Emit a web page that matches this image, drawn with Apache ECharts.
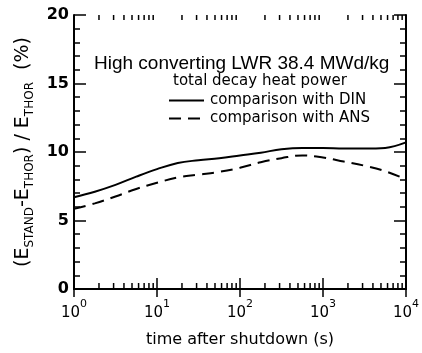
<!DOCTYPE html>
<html>
<head>
<meta charset="utf-8">
<script src="https://cdn.jsdelivr.net/npm/echarts@6/dist/echarts.min.js"></script>
<style>html,body{margin:0;padding:0;background:#fff;}#c{width:422px;height:353px;}</style>
</head>
<body>
<div id="c"></div>
<script>
// time after shutdown (s)
const times = [1, 1.78, 3.16, 5.62, 10, 17.8, 31.6, 56.2, 100, 178, 316, 562, 1000, 1780, 3160, 5620, 10000];
// (E_STAND - E_THOR)/E_THOR (%)
const dinValues = [6.7, 7.1, 7.6, 8.2, 8.75, 9.2, 9.4, 9.55, 9.75, 9.95, 10.2, 10.3, 10.3, 10.25, 10.25, 10.3, 10.7];
const ansValues = [5.85, 6.25, 6.75, 7.3, 7.75, 8.15, 8.35, 8.55, 8.85, 9.25, 9.55, 9.75, 9.6, 9.3, 9.0, 8.6, 8.0];
const seriesNames = ['comparison with DIN', 'comparison with ANS'];
const decades = [1, 10, 100, 1000];
const minorMultipliers = [2, 3, 4, 5, 6, 7, 8, 9];
const yTicks = [0, 5, 10, 15, 20];

const minorTickValues = [];
decades.forEach(d => minorMultipliers.forEach(m => minorTickValues.push(d * m)));

const FONT = '"Liberation Sans", Arial, sans-serif';
const WIDE = '"DejaVu Sans", sans-serif';
const chart = echarts.init(document.getElementById('c'));

chart.setOption({
  backgroundColor: '#fff',
  animation: false,
  textStyle: { fontFamily: WIDE, color: '#000' },
  title: [
    { text: 'High converting LWR 38.4 MWd/kg', left: 89, top: 49,
      textStyle: { fontFamily: FONT, fontSize: 19, fontWeight: 'normal', color: '#000' } },
    { text: 'total decay heat power', left: 168, top: 69,
      textStyle: { fontFamily: WIDE, fontSize: 15, fontWeight: 'normal', color: '#000' } }
  ],
  legend: {
    data: seriesNames,
    orient: 'vertical',
    left: 168, top: 93,
    itemWidth: 35, itemHeight: 15, itemGap: 3,
    itemStyle: { opacity: 0 },
    textStyle: { fontFamily: WIDE, fontSize: 15, color: '#000', padding: [0, 0, 0, 1] },
    padding: 0
  },
  grid: { left: 74, right: 15, top: 15, bottom: 60 },
  xAxis: [
    {
      type: 'log', logBase: 10, min: 1, max: 10000,
      name: 'time after shutdown (s)', nameLocation: 'middle', nameGap: 43,
      nameTextStyle: { fontFamily: WIDE, fontSize: 16, color: '#000' },
      axisLine: { lineStyle: { color: '#000', width: 2 } },
      axisTick: { inside: true, length: 11, lineStyle: { color: '#000', width: 1.5 } },
      splitLine: { show: false },
      axisLabel: {
        margin: 10, color: '#000',
        formatter: v => '{b|10}{sup|' + Math.round(Math.log10(v)) + '}',
        rich: {
          b: { fontFamily: WIDE, fontSize: 15, color: '#000', lineHeight: 22, verticalAlign: 'bottom' },
          sup: { fontFamily: WIDE, fontSize: 11, color: '#000', lineHeight: 12, verticalAlign: 'top' }
        }
      }
    },
    {
      type: 'log', logBase: 10, min: 1, max: 10000, position: 'top',
      axisLine: { lineStyle: { color: '#000', width: 2 } },
      axisTick: { inside: true, length: 8, lineStyle: { color: '#000', width: 1.5 } },
      axisLabel: { show: false }, splitLine: { show: false }
    }
  ],
  yAxis: [
    {
      type: 'value', min: 0, max: 20, interval: 5,
      name: '(E{sub|STAND}-E{sub|THOR}) / E{sub|THOR}  (%)',
      nameLocation: 'middle', nameGap: 35, nameRotate: 90,
      nameTextStyle: {
        fontFamily: WIDE, fontSize: 19, color: '#000', lineHeight: 26,
        rich: { sub: { fontFamily: WIDE, fontSize: 12, color: '#000', verticalAlign: 'bottom', lineHeight: 12 } }
      },
      axisLine: { show: true, lineStyle: { color: '#000', width: 2 } },
      axisTick: { inside: true, length: 12, lineStyle: { color: '#000', width: 1.5 } },
      minorTick: { show: true, splitNumber: 5, length: 6, lineStyle: { color: '#000', width: 1.5 } },
      splitLine: { show: false },
      axisLabel: { margin: 5, fontFamily: WIDE, fontSize: 16, fontWeight: 'bold', color: '#000',
        formatter: v => yTicks.includes(v) ? String(v) : '' }
    },
    {
      type: 'value', min: 0, max: 20, interval: 5, position: 'right',
      axisLine: { show: true, lineStyle: { color: '#000', width: 2 } },
      axisTick: { inside: true, length: 12, lineStyle: { color: '#000', width: 1.5 } },
      minorTick: { show: true, splitNumber: 5, length: 6, lineStyle: { color: '#000', width: 1.5 } },
      splitLine: { show: false },
      axisLabel: { show: false }
    }
  ],
  series: [
    {
      name: seriesNames[0], type: 'line', symbol: 'none', smooth: 0.4,
      data: times.map((t, i) => [t, dinValues[i]]),
      lineStyle: { color: '#000', width: 2 }, itemStyle: { color: '#000' }
    },
    {
      name: seriesNames[1], type: 'line', symbol: 'none', smooth: 0.4,
      data: times.map((t, i) => [t, ansValues[i]]),
      lineStyle: { color: '#000', width: 2, type: [12, 7] }, itemStyle: { color: '#000' }
    },
    {
      name: 'minorTicks', type: 'custom', silent: true,
      data: minorTickValues.map(v => [v, 0]),
      renderItem: (params, api) => {
        const v = api.value(0);
        const b = api.coord([v, 0]);
        const t = api.coord([v, 20]);
        return {
          type: 'group',
          children: [
            { type: 'line', shape: { x1: b[0], y1: b[1], x2: b[0], y2: b[1] - 6 }, style: { stroke: '#000', lineWidth: 1.5 } },
            { type: 'line', shape: { x1: t[0], y1: t[1], x2: t[0], y2: t[1] + 5 }, style: { stroke: '#000', lineWidth: 1.5 } }
          ]
        };
      }
    }
  ]
});
</script>
</body>
</html>
